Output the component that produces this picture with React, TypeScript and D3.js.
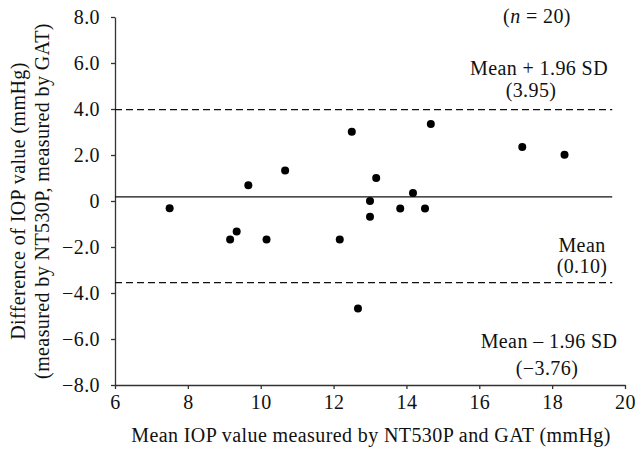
// BlandAltman.tsx
import React, { useRef, useEffect } from 'react';
import * as d3 from 'd3';

// mean IOP (x) and difference (y) per eye
const meanIop = [7.5, 9.16, 9.34, 10.16, 9.66, 10.67, 12.17, 12.67, 12.5, 13.17, 13.0, 13.0, 13.83, 14.18, 14.51, 14.67, 17.18, 18.34];
const diffIop = [-0.32, -1.67, -1.33, -1.67, 0.68, 1.33, -1.67, -4.67, 3.01, 1.0, 0.0, -0.68, -0.33, 0.35, -0.33, 3.35, 2.35, 2.01];

const xTicks = [6, 8, 10, 12, 14, 16, 18, 20];
const yTicks = [8, 6, 4, 2, 0, -2, -4, -6, -8];

// reference lines as drawn: upper limit, mean, lower limit
const limitValues = [3.97, 0.18, -3.55];
const limitDashed = [true, false, true];
const lineEnd = 19.65;

const FONT = '"Liberation Serif", "Times New Roman", serif';
const FS = '20px';
const LS = '0.4px';

const App: React.FC = () => {
    const svgRef = useRef<SVGSVGElement | null>(null);

    useEffect(() => {
        if (!svgRef.current) return;
        const svg = d3.select(svgRef.current);
        svg.selectAll('*').remove();

        const width = 636;
        const height = 450;
        const margin = { top: 17, right: 11, bottom: 65, left: 115 };

        const x = d3.scaleLinear().domain([6, 20]).range([margin.left, width - margin.right]);
        const y = d3.scaleLinear().domain([-8, 8]).range([height - margin.bottom, margin.top]);

        // axes
        const xAxis = svg.append('g')
            .attr('transform', `translate(0,${y(-8)})`)
            .call(d3.axisBottom(x).tickValues(xTicks).tickFormat(d3.format('d')).tickSize(4).tickPadding(6).tickSizeOuter(0));
        const yAxis = svg.append('g')
            .attr('transform', `translate(${x(6)},0)`)
            .call(d3.axisLeft(y).tickValues(yTicks)
                .tickFormat(d => (+d === 0 ? '0' : d3.format('.1f')(+d).replace('-', '\u2212')))
                .tickSize(4).tickPadding(11).tickSizeOuter(0));

        [xAxis, yAxis].forEach(ax => {
            ax.select('.domain').attr('stroke', '#333').attr('stroke-width', 1.3);
            ax.selectAll('.tick line').attr('stroke', '#333').attr('stroke-width', 1.3);
            ax.selectAll('.tick text')
                .attr('fill', '#111')
                .style('font-family', FONT)
                .style('font-size', FS)
                .style('letter-spacing', LS);
        });

        // mean and limits of agreement
        svg.selectAll('.limit')
            .data(limitValues)
            .enter().append('line')
            .attr('class', 'limit')
            .attr('x1', x(6))
            .attr('x2', x(lineEnd))
            .attr('y1', d => y(d))
            .attr('y2', d => y(d))
            .attr('stroke', '#111')
            .attr('stroke-width', 1.2)
            .attr('stroke-dasharray', (d, i) => (limitDashed[i] ? '7,4' : null));

        // points
        svg.selectAll('.dot')
            .data(meanIop)
            .enter().append('circle')
            .attr('class', 'dot')
            .attr('cx', d => x(d))
            .attr('cy', (d, i) => y(diffIop[i]))
            .attr('r', 4)
            .attr('fill', '#000');

        const label = (tx: number, ty: number, txt: string, anchor = 'middle') =>
            svg.append('text')
                .attr('x', tx)
                .attr('y', ty)
                .attr('text-anchor', anchor)
                .attr('fill', '#111')
                .style('font-family', FONT)
                .style('font-size', FS)
                .style('letter-spacing', LS)
                .text(txt);

        // n annotation with italic n
        const nText = label(537, 23, '');
        nText.append('tspan').text('(');
        nText.append('tspan').style('font-style', 'italic').text('n');
        nText.append('tspan').text(' = 20)');

        label(539, 75, 'Mean + 1.96 SD');
        label(531, 97, '(3.95)');
        label(582, 252, 'Mean');
        label(582, 273, '(0.10)');
        label(549, 348, 'Mean \u2013 1.96 SD');
        label(547, 375, '(\u22123.76)');

        // axis titles
        label(371, 442, 'Mean IOP value measured by NT530P and GAT (mmHg)');
        label(0, 0, 'Difference of  IOP value (mmHg)')
            .attr('transform', `translate(25,${(y(8) + y(-8)) / 2}) rotate(-90)`);
        label(0, 0, '(measured by NT530P, measured by GAT)')
            .attr('transform', `translate(49,${(y(8) + y(-8)) / 2}) rotate(-90)`);
    }, []);

    return (
        <svg ref={svgRef} width={636} height={450}
            style={{ position: 'absolute', left: 0, top: 0, background: '#fff' }} />
    );
};

export default App;
